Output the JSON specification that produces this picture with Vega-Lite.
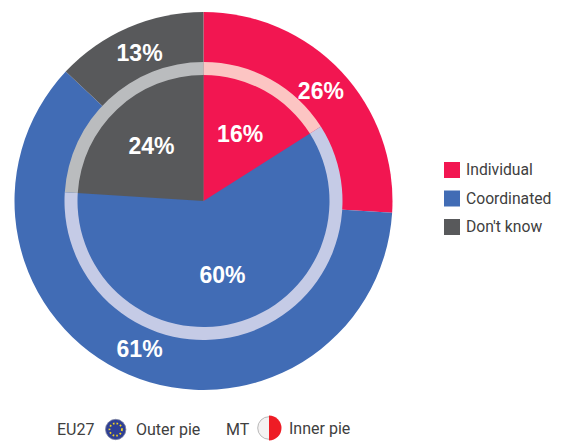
{"$schema":"https://vega.github.io/schema/vega-lite/v6.json","width":407,"height":402,"padding":0,"autosize":{"type":"pad"},"background":"white","config":{"view":{"stroke":null},"font":"Liberation Sans"},
"datasets":{"outer":[{"type":"Individual","k":1,"v":26,"t":"26%"},{"type":"Coordinated","k":2,"v":61,"t":"61%"},{"type":"Don't know","k":3,"v":13,"t":"13%"}],"inner":[{"type":"Individual","k":1,"v":16,"t":"16%"},{"type":"Coordinated","k":2,"v":60,"t":"60%"},{"type":"Don't know","k":3,"v":24,"t":"24%"}],"one":[{"n":1}]},
"layer":[
{"data":{"name":"outer"},"mark":{"type":"arc","radius":189},"encoding":{"theta":{"field":"v","type":"quantitative","stack":true,"scale":{"domain":[0,100]}},"order":{"field":"k"},"color":{"field":"type","type":"nominal","scale":{"domain":["Individual","Coordinated","Don't know"],"range":["#F21651","#416CB5","#58595B"]},"legend":{"title":null,"orient":"none","legendX":444,"legendY":162,"symbolType":"square","symbolSize":256,"symbolStrokeWidth":0,"symbolOpacity":1,"labelFontSize":15.7,"labelFont":"Roboto","labelColor":"#404040","labelOffset":6,"rowPadding":12.5,"labelLimit":200}}}},
{"data":{"name":"inner"},"mark":{"type":"arc","radius":127},"encoding":{"theta":{"field":"v","type":"quantitative","stack":true,"scale":{"domain":[0,100]}},"order":{"field":"k"},"color":{"field":"type","type":"nominal"}}},
{"data":{"name":"inner"},"mark":{"type":"arc","radius":139,"radius2":126},"encoding":{"theta":{"field":"v","type":"quantitative","stack":true,"scale":{"domain":[0,100]}},"order":{"field":"k"},"fill":{"field":"type","type":"nominal","scale":{"domain":["Individual","Coordinated","Don't know"],"range":["#FCC5C3","#C5CBE6","#BABCBE"]},"legend":null}}},
{"data":{"name":"outer"},"mark":{"type":"text","radius":161,"dy":1,"font":"Liberation Sans","fontWeight":"bold","fontSize":23,"color":"white"},"encoding":{"theta":{"field":"v","type":"quantitative","stack":true,"scale":{"domain":[0,100]}},"order":{"field":"k"},"text":{"field":"t"}}},
{"data":{"name":"inner"},"mark":{"type":"text","radius":76,"dy":1,"font":"Liberation Sans","fontWeight":"bold","fontSize":23,"color":"white"},"encoding":{"theta":{"field":"v","type":"quantitative","stack":true,"scale":{"domain":[0,100]}},"order":{"field":"k"},"text":{"field":"t"}}},
{"data":{"name":"one"},"mark":{"type":"text","text":"EU27","align":"left","baseline":"middle","fontSize":16,"color":"#404040","font":"Roboto"},"encoding":{"x":{"datum":57,"type":"quantitative","scale":{"domain":[0,407],"nice":false,"zero":false},"axis":null},"y":{"datum":430,"type":"quantitative","scale":{"domain":[0,402],"range":[0,402],"nice":false,"zero":false},"axis":null}}},
{"data":{"name":"one"},"mark":{"type":"text","text":"Outer pie","align":"left","baseline":"middle","fontSize":16,"color":"#404040","font":"Roboto"},"encoding":{"x":{"datum":136,"type":"quantitative"},"y":{"datum":430,"type":"quantitative"}}},
{"data":{"name":"one"},"mark":{"type":"text","text":"MT","align":"left","baseline":"middle","fontSize":16,"color":"#404040","font":"Roboto"},"encoding":{"x":{"datum":226,"type":"quantitative"},"y":{"datum":430,"type":"quantitative"}}},
{"data":{"name":"one"},"mark":{"type":"text","text":"Inner pie","align":"left","baseline":"middle","fontSize":16,"color":"#404040","font":"Roboto"},"encoding":{"x":{"datum":289,"type":"quantitative"},"y":{"datum":429,"type":"quantitative"}}},
{"data":{"name":"one"},"mark":{"type":"point","filled":true,"opacity":1,"shape":"circle","size":415,"color":"#2E3F95","stroke":"#7F84A0","strokeWidth":0.8},"encoding":{"x":{"datum":115.7,"type":"quantitative"},"y":{"datum":429.5,"type":"quantitative"}}},
{"data":{"name":"one"},"mark":{"type":"point","filled":false,"opacity":1,"shape":"circle","size":154,"stroke":"#F2D21F","strokeWidth":1.8,"strokeDash":[1.6,2.07]},"encoding":{"x":{"datum":115.7,"type":"quantitative"},"y":{"datum":429.5,"type":"quantitative"}}},
{"data":{"name":"one"},"mark":{"type":"point","filled":true,"opacity":1,"shape":"circle","size":510,"color":"#F4F2F2","stroke":"#A8A8A8","strokeWidth":0.8},"encoding":{"x":{"datum":269,"type":"quantitative"},"y":{"datum":428,"type":"quantitative"}}},
{"data":{"name":"one"},"mark":{"type":"arc","radius":12.5,"theta":0,"theta2":3.14159,"color":"#EE1C25"},"encoding":{"x":{"datum":269,"type":"quantitative"},"y":{"datum":428,"type":"quantitative"}}}
]}
